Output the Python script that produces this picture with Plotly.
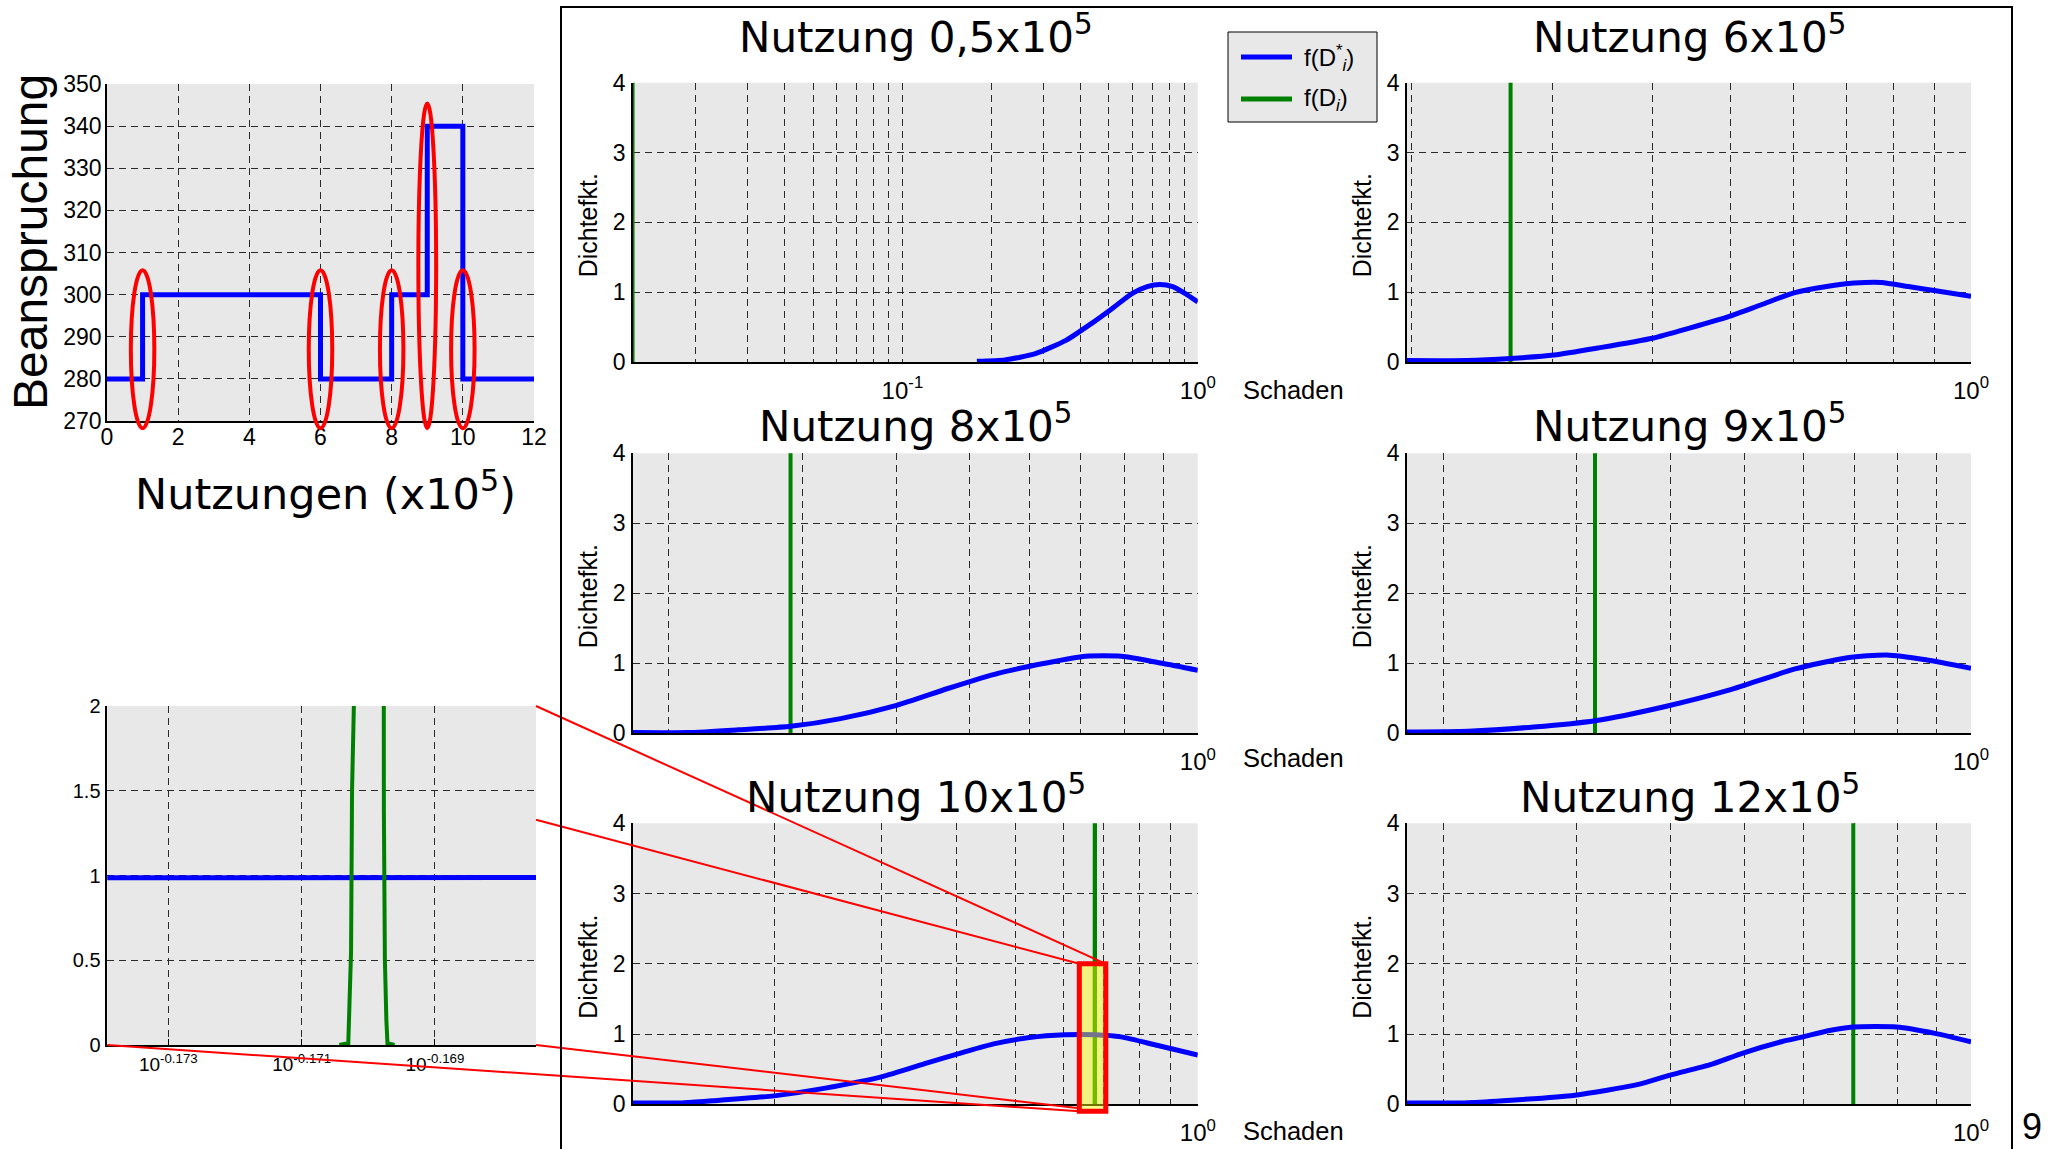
import math
import plotly.graph_objects as go

PAGE_W, PAGE_H = 2054, 1149
OFF = 0
FW, FH = PAGE_W - 2 * OFF, PAGE_H - 2 * OFF

# ---------------- data ----------------
# load history (top-left panel)
nutzungen = [0, 1, 6, 8, 9, 10, 12]
beanspruchung = [280, 300, 280, 300, 340, 280, 280]

# red ellipses marking the load changes (data units of the top-left panel)
ellipse_x = [1, 6, 8, 9, 10]
ellipse_halfwidth = [0.33, 0.33, 0.33, 0.25, 0.33]
ellipse_top = [305.8, 305.8, 305.8, 345.4, 305.8]
ellipse_bottom = [268.3, 268.3, 268.3, 268.3, 268.3]

# density panels: blue f(D_i*) and green f(D_i)
titles = ["Nutzung 0,5x10<sup>5</sup>", "Nutzung 6x10<sup>5</sup>", "Nutzung 8x10<sup>5</sup>",
          "Nutzung 9x10<sup>5</sup>", "Nutzung 10x10<sup>5</sup>", "Nutzung 12x10<sup>5</sup>"]

blue05_x = [0.1787, 0.2223, 0.2820, 0.3577, 0.4359, 0.5108, 0.5985, 0.6740, 0.7446, 0.8215, 0.9073, 1.0]
blue05_y = [0.01, 0.03, 0.12, 0.31, 0.55, 0.76, 0.98, 1.08, 1.11, 1.08, 0.98, 0.86]
green05_x = [0.01225, 0.01225]
green05_y = [0, 10]

blue6_x = [0.1974, 0.2347, 0.2660, 0.3015, 0.3418, 0.3999, 0.4462, 0.4980, 0.5470, 0.6009,
           0.6602, 0.7143, 0.7727, 0.8353, 0.9034, 1.0]
blue6_y = [0.02, 0.02, 0.05, 0.10, 0.20, 0.34, 0.49, 0.65, 0.82, 0.99, 1.08, 1.13, 1.14, 1.08, 1.02, 0.94]
green6_x = [0.266, 0.266]
green6_y = [0, 10]

blue8_x = [0.1794, 0.2118, 0.2473, 0.2897, 0.3373, 0.4000, 0.4674, 0.5459, 0.6278, 0.7106, 0.7921, 0.8969, 1.0]
blue8_y = [0.01, 0.01, 0.05, 0.10, 0.21, 0.40, 0.64, 0.86, 1.00, 1.10, 1.10, 1.00, 0.90]
green8_x = [0.2897, 0.2897]
green8_y = [0, 10]

blue9_x = [0.1786, 0.2155, 0.2630, 0.3172, 0.3920, 0.4786, 0.5844, 0.6857, 0.7730, 0.8712, 1.0]
blue9_y = [0.02, 0.03, 0.09, 0.18, 0.38, 0.62, 0.92, 1.08, 1.12, 1.05, 0.93]
green9_x = [0.3172, 0.3172]
green9_y = [0, 10]

blue10_x = [0.1169, 0.1410, 0.1585, 0.2000, 0.2427, 0.3003, 0.3577, 0.4099, 0.4603, 0.5272,
            0.6037, 0.6783, 0.7470, 0.8558, 1.0]
blue10_y = [0.02, 0.02, 0.05, 0.12, 0.23, 0.39, 0.59, 0.74, 0.86, 0.95, 0.99, 0.99, 0.96, 0.84, 0.70]
green10_x = [0.675406, 0.675615, 0.675638, 0.675680, 0.675703, 0.675736,
             0.676423, 0.676446, 0.676470, 0.676504, 0.676530, 0.676695]
green10_y = [0, 0.01, 0.2, 0.55, 1.5, 10, 10, 1.4, 0.5, 0.15, 0.01, 0]

blue12_x = [0.1786, 0.2130, 0.2395, 0.2983, 0.3609, 0.4000, 0.4499, 0.4984, 0.5603, 0.5985,
            0.6491, 0.6982, 0.7966, 0.8960, 1.0]
blue12_y = [0.02, 0.02, 0.05, 0.13, 0.28, 0.42, 0.56, 0.73, 0.89, 0.96, 1.05, 1.10, 1.10, 1.01, 0.89]
green12_x = [0.698, 0.698]
green12_y = [0, 10]

# zoom inset (blue is flat at this scale)
inset_blue_x = [0.66988, 0.68017]
inset_blue_y = [0.987, 0.988]

# highlighted region in "Nutzung 10x10^5"
zoom_box_x = [0.6374, 0.7049]
zoom_box_y = [-0.1, 2.0]

# tick labels / grid positions
dens_y_ticks = [0, 1, 2, 3, 4]
ticks05 = [0.1, 1.0]
ticks05_text = ["10<sup>-1</sup>", "10<sup>0</sup>"]
grid05 = [0.02, 0.03, 0.04, 0.05, 0.06, 0.07, 0.08, 0.09, 0.2, 0.3, 0.4, 0.5, 0.6, 0.7, 0.8, 0.9]
ticks_std = [1.0]
ticks_std_text = ["10<sup>0</sup>"]
grid_std = [0.2, 0.3, 0.4, 0.5, 0.6, 0.7, 0.8, 0.9]
inset_xticks = [0.671429, 0.674528, 0.677641]
inset_xticks_text = ["10<sup>-0.173</sup>", "10<sup>-0.171</sup>", "10<sup>-0.169</sup>"]
inset_yticks = [0, 0.5, 1, 1.5, 2]
inset_yticks_text = ["0", "0.5", "1", "1.5", "2"]

# ---------------- layout helpers ----------------
ARIAL = "Liberation Sans, Arial, sans-serif"
DEJAVU = "DejaVu Sans, Verdana, sans-serif"
BG = "#e8e8e8"
BLUE = "#0000ff"
GREEN = "#008000"
RED = "#ff0000"
GRIDC = "#2a2a2a"
DASH = "7px,5px"


def px2x(px):
    return (px - OFF) / FW


def py2y(py):
    return 1 - (py - OFF) / FH


def dx(a, b):
    return [px2x(a), px2x(b)]


def dy(top, bottom):
    return [py2y(bottom), py2y(top)]


# pixel boxes on the page: (left, right, top, bottom)
boxA = (107, 534, 84, 421)
boxI = (107.3, 536, 706, 1045)
LC = (633, 1197.8)
RC = (1407, 1971)
ROWS = [(82.7, 362), (453.3, 733.3), (823.3, 1104.3)]
dens_boxes = [LC + ROWS[0], RC + ROWS[0], LC + ROWS[1], RC + ROWS[1], LC + ROWS[2], RC + ROWS[2]]
dens_ranges = [-1.912, -0.7045, -0.7462, -0.748, -0.9322, -0.748]

fig = go.Figure()

# top-left panel
fig.add_trace(go.Scatter(x=nutzungen, y=beanspruchung, mode="lines", line=dict(color=BLUE, width=5, shape="hv"),
                         xaxis="x", yaxis="y", showlegend=False))
# inset
fig.add_trace(go.Scatter(x=inset_blue_x, y=inset_blue_y, mode="lines", line=dict(color=BLUE, width=5),
                         xaxis="x2", yaxis="y2", showlegend=False))
fig.add_trace(go.Scatter(x=green10_x, y=green10_y, mode="lines", line=dict(color=GREEN, width=4),
                         xaxis="x2", yaxis="y2", showlegend=False))

dens_data = [(blue05_x, blue05_y, green05_x, green05_y),
             (blue6_x, blue6_y, green6_x, green6_y),
             (blue8_x, blue8_y, green8_x, green8_y),
             (blue9_x, blue9_y, green9_x, green9_y),
             (blue10_x, blue10_y, green10_x, green10_y),
             (blue12_x, blue12_y, green12_x, green12_y)]

for i, (bx, by, gx, gy) in enumerate(dens_data):
    n = i + 3
    fig.add_trace(go.Scatter(x=gx, y=gy, mode="lines", line=dict(color=GREEN, width=4 if i else 3),
                             xaxis=f"x{n}", yaxis=f"y{n}", showlegend=False))
    fig.add_trace(go.Scatter(x=bx, y=by, mode="lines", line=dict(color=BLUE, width=5, shape="spline", smoothing=0.6),
                             xaxis=f"x{n}", yaxis=f"y{n}", showlegend=False))

common = dict(showgrid=True, gridcolor=GRIDC, gridwidth=1, griddash=DASH, showline=True, linecolor="black",
              linewidth=1.5, zeroline=False, ticks="", mirror=False)

layout = dict(width=FW, height=FH, margin=dict(l=0, r=0, t=0, b=0, pad=0, autoexpand=False),
              paper_bgcolor="white", plot_bgcolor=BG, showlegend=False)

layout["xaxis"] = dict(common, domain=dx(boxA[0], boxA[1]), anchor="y", range=[0, 12], tickvals=[0, 2, 4, 6, 8, 10, 12],
                       tickfont=dict(family=ARIAL, size=23, color="black"), ticklabelstandoff=-5)
layout["yaxis"] = dict(common, domain=dy(boxA[2], boxA[3]), anchor="x", range=[270, 350],
                       tickvals=[270, 280, 290, 300, 310, 320, 330, 340, 350],
                       tickfont=dict(family=ARIAL, size=23, color="black"), ticklabelstandoff=-1)

layout["xaxis2"] = dict(common, domain=dx(boxI[0], boxI[1]), anchor="y2", type="log",
                        range=[-0.173915, -0.167485], tickvals=inset_xticks, ticktext=inset_xticks_text,
                        ticks="inside", ticklen=6, tickcolor="black",
                        tickfont=dict(family=ARIAL, size=19, color="black"), ticklabelstandoff=1)
layout["yaxis2"] = dict(common, domain=dy(boxI[2], boxI[3]), anchor="x2", range=[0, 2],
                        tickvals=inset_yticks, ticktext=inset_yticks_text,
                        tickfont=dict(family=ARIAL, size=20, color="black"), ticklabelstandoff=1)

for i, b in enumerate(dens_boxes):
    n = i + 3
    tv, tt, mg = (ticks05, ticks05_text, grid05) if i == 0 else (ticks_std, ticks_std_text, grid_std)
    layout[f"xaxis{n}"] = dict(common, domain=dx(b[0], b[1]), anchor=f"y{n}", type="log",
                               range=[dens_ranges[i], 0], tickvals=tv, ticktext=tt,
                               minor=dict(tickvals=mg, showgrid=True, gridcolor=GRIDC, gridwidth=1, griddash=DASH,
                                          ticks=""),
                               tickfont=dict(family=ARIAL, size=24, color="black"), ticklabelstandoff=6)
    layout[f"yaxis{n}"] = dict(common, domain=dy(b[2], b[3]), anchor=f"x{n}", range=[0, 4],
                               tickvals=dens_y_ticks,
                               tickfont=dict(family=ARIAL, size=23, color="black"), ticklabelstandoff=1)

shapes = []
annotations = []


def ann(text, x, y, size, family=ARIAL, **kw):
    d = dict(text=text, x=px2x(x), y=py2y(y), xref="paper", yref="paper", showarrow=False,
             font=dict(size=size, family=family, color="black"))
    d.update(kw)
    return d


# ellipses on top-left panel (domain refs so they are not clipped)
for cx, hw, top, bot in zip(ellipse_x, ellipse_halfwidth, ellipse_top, ellipse_bottom):
    shapes.append(dict(type="circle", xref="x domain", yref="y domain",
                       x0=(cx - hw) / 12, x1=(cx + hw) / 12, y0=(bot - 270) / 80, y1=(top - 270) / 80,
                       line=dict(color=RED, width=4)))

# zoom box in panel 10 (axis 7)
r0 = dens_ranges[4]
fx0 = (math.log10(zoom_box_x[0]) - r0) / (0 - r0)
fx1 = (math.log10(zoom_box_x[1]) - r0) / (0 - r0)
fy0 = zoom_box_y[0] / 4
fy1 = zoom_box_y[1] / 4
shapes.append(dict(type="rect", xref="x7 domain", yref="y7 domain", x0=fx0, x1=fx1, y0=fy0, y1=fy1,
                   fillcolor="rgba(255,255,0,0.45)", line=dict(color=RED, width=5)))

# page-pixel corners of the zoom box
b10 = dens_boxes[4]
px0 = b10[0] + fx0 * (b10[1] - b10[0])
px1 = b10[0] + fx1 * (b10[1] - b10[0])
py_top = b10[3] - fy1 * (b10[3] - b10[2])
py_bot = b10[3] - fy0 * (b10[3] - b10[2])


def pline(x0, y0, x1, y1, color=RED, width=2):
    shapes.append(dict(type="line", xref="paper", yref="paper", x0=px2x(x0), y0=py2y(y0), x1=px2x(x1), y1=py2y(y1),
                       line=dict(color=color, width=width)))


# connector lines from inset corners to the zoom box
il, ir, it, ib = boxI
t = (ir - il) / (px0 - il)
pline(ir, it + t * (py_top - it), px0, py_top)
pline(ir, it, px1, py_top)
pline(ir, ib, px0, py_bot - 3)
pline(il, ib, px0, py_bot)

# big frame
shapes.append(dict(type="rect", xref="paper", yref="paper", x0=px2x(561), x1=px2x(2012), y0=-0.05, y1=py2y(7),
                   line=dict(color="black", width=2), fillcolor="rgba(0,0,0,0)"))

# legend (drawn)
shapes.append(dict(type="rect", xref="paper", yref="paper", x0=px2x(1228), x1=px2x(1377), y0=py2y(122), y1=py2y(32),
                   line=dict(color="black", width=1), fillcolor=BG))
pline(1241, 57, 1292, 57, BLUE, 5)
pline(1241, 99, 1292, 99, GREEN, 5)
annotations.append(ann("f(D<sup>*</sup><sub><i>i</i></sub>)", 1302, 58, 24, xanchor="left", yanchor="middle"))
annotations.append(ann("f(D<sub><i>i</i></sub>)", 1302, 100, 24, xanchor="left", yanchor="middle"))

# top-left panel titles
annotations.append(ann("Beanspruchung", 31, 242, 48, textangle=-90, xanchor="center", yanchor="middle"))
annotations.append(ann("Nutzungen (x10<sup>5</sup>)", 325, 491, 43, family=DEJAVU, xanchor="center", yanchor="middle"))

# density panel titles and labels
title_y = [34, 34, 424, 424, 794, 794]
for i, b in enumerate(dens_boxes):
    cx = (b[0] + b[1]) / 2
    annotations.append(ann(titles[i], cx + 1, title_y[i], 42, family=DEJAVU, xanchor="center", yanchor="middle"))
    annotations.append(ann("Dichtefkt.", b[0] - 45, (b[2] + b[3]) / 2 + 3, 25, textangle=-90,
                           xanchor="center", yanchor="middle"))

for yy in [390, 758, 1131]:
    annotations.append(ann("Schaden", 1241, yy, 25.5, xanchor="left", yanchor="middle"))

annotations.append(ann("9", 2032, 1126, 36, xanchor="center", yanchor="middle"))

layout["shapes"] = shapes
layout["annotations"] = annotations
fig.update_layout(**layout)

# remove the default page margin synchronously so the 2054x1149 figure fills the window exactly
body_fix = ("}); document.body.style.margin='0'; document.body.style.overflow='hidden'; "
            "(function(){")
fig.write_html("out.html", config={"displayModeBar": False}, post_script=body_fix)
